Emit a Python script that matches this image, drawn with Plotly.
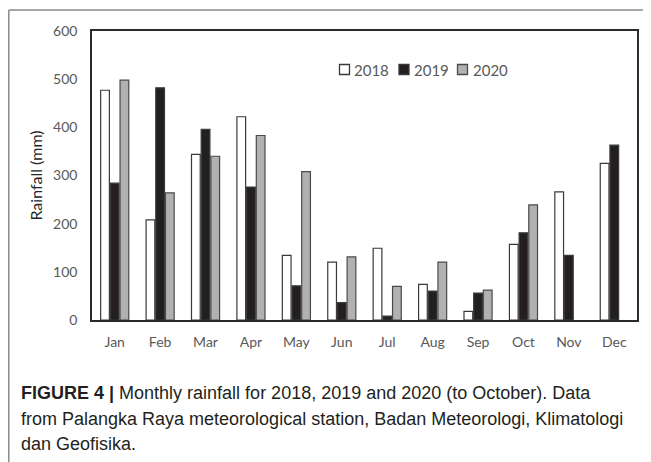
import plotly.graph_objects as go

months = ["Jan", "Feb", "Mar", "Apr", "May", "Jun", "Jul", "Aug", "Sep", "Oct", "Nov", "Dec"]
years = ["2018", "2019", "2020"]
rain_2018 = [477, 208, 344, 422, 134, 120, 149, 74, 18, 157, 266, 325]
rain_2019 = [284, 482, 396, 276, 71, 36, 8, 60, 56, 181, 134, 363]
rain_2020 = [498, 264, 340, 383, 308, 131, 70, 120, 62, 239, None, None]

y_ticks = [0, 100, 200, 300, 400, 500, 600]

caption_lines = [
    "<b>FIGURE 4 |</b> Monthly rainfall for 2018, 2019 and 2020 (to October). Data",
    "from Palangka Raya meteorological station, Badan Meteorologi, Klimatologi",
    "dan Geofisika.",
]

# page body has an 8px margin; work in reference-pixel coordinates and shift
OFF = 8
W, H = 651 - OFF, 462 - OFF
PL, PR, PT, PB = 92, 637, 31, 320          # plot box in reference pixels
L, T = PL - OFF, PT - OFF
R, B = W - (PR - OFF), H - (PB - OFF)
pw, ph = W - L - R, H - T - B

def px_x(x):
    return (x - OFF - L) / pw

def px_y(y):
    return (PB - y) / ph

styles = [
    dict(color="white", line=dict(color="#3a3a3a", width=1.2)),
    dict(color="#231f20", line=dict(color="#3a3a3a", width=1.2)),
    dict(color="#b1b1b1", line=dict(color="#4a4a4a", width=1.2)),
]

fig = go.Figure()
for name, vals, st in zip(years, [rain_2018, rain_2019, rain_2020], styles):
    fig.add_trace(go.Bar(name=name, x=months, y=vals, marker=st, showlegend=False))

tick_font = dict(family="Lato, Open Sans, sans-serif", size=14, color="#595959")

fig.update_layout(
    width=W, height=H,
    margin=dict(l=L, r=R, t=T, b=B, autoexpand=False),
    paper_bgcolor="white", plot_bgcolor="white",
    barmode="group", bargap=0.36, bargroupgap=0.1,
    showlegend=False,
    xaxis=dict(showline=True, mirror=True, linecolor="#2a2a2a", linewidth=1.6,
               showgrid=False, ticks="", tickfont=tick_font, ticklabelstandoff=8,
               categoryorder="array", categoryarray=months, fixedrange=True),
    yaxis=dict(range=[0, 600], tickvals=y_ticks, showline=True, mirror=True,
               linecolor="#2a2a2a", linewidth=1.6, showgrid=False, ticks="",
               tickfont=tick_font, ticklabelstandoff=10, zeroline=False,
               title=dict(text="Rainfall (mm)", standoff=6,
                          font=dict(family="Lato, Open Sans, sans-serif", size=16, color="#262626"))),
    font=dict(family="Lato, sans-serif"),
)

# legend (squares + labels), styled like the bar traces
legend_sq_x = [339.5, 399, 457.5]
legend_txt_x = [353, 413, 472]
legend_y = 69.5
for name, st, sx, tx in zip(years, styles, legend_sq_x, legend_txt_x):
    fig.add_shape(type="rect", xref="paper", yref="paper",
                  x0=px_x(sx), x1=px_x(sx + 10), y0=px_y(legend_y + 5), y1=px_y(legend_y - 5),
                  fillcolor=st["color"], line=dict(color=st["line"]["color"], width=1.3))
    fig.add_annotation(text=name, xref="paper", yref="paper", x=px_x(tx - 1), y=px_y(legend_y),
                       xanchor="left", yanchor="middle", showarrow=False,
                       font=dict(family="Lato, Open Sans, sans-serif", size=15, color="#595959"))

# outer figure frame (top and left edges)
fig.add_shape(type="line", xref="paper", yref="paper",
              x0=px_x(8.8), x1=px_x(651), y0=px_y(10), y1=px_y(10),
              line=dict(color="#8a8a8a", width=1.5))
fig.add_shape(type="line", xref="paper", yref="paper",
              x0=px_x(8.8), x1=px_x(8.8), y0=px_y(10), y1=px_y(462),
              line=dict(color="#8a8a8a", width=1.5))

for line, ypix in zip(caption_lines, [393, 419, 444]):
    fig.add_annotation(text=line, xref="paper", yref="paper", x=px_x(19), y=px_y(ypix),
                       xanchor="left", yanchor="middle", showarrow=False, align="left",
                       font=dict(family="Liberation Sans, Arial, sans-serif", size=18, color="#231f20"))

fig.write_html("out.html")
